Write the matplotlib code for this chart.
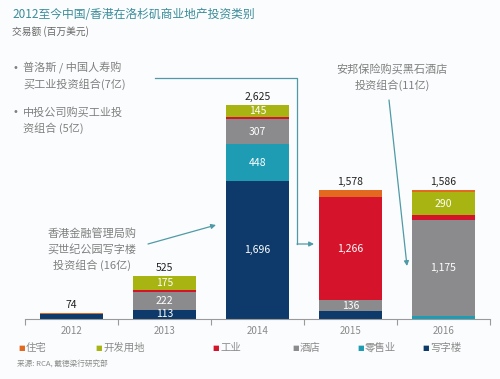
import numpy as np
import matplotlib
matplotlib.use('Agg')
import matplotlib.pyplot as plt

plt.rcParams['font.family'] = ['Noto Sans CJK SC', 'DejaVu Sans']

# data (百万美元)
years = ['2012', '2013', '2014', '2015', '2016']
office = [60, 113, 1696, 96, 0]        # 写字楼
retail = [0, 0, 448, 0, 37]            # 零售业
hotel = [0, 222, 307, 136, 1175]       # 酒店
industrial = [0, 15, 29, 1266, 60]     # 工业
devland = [0, 175, 145, 0, 290]        # 开发用地
residential = [14, 0, 0, 80, 24]       # 住宅

series = [('写字楼', office, '#0d3a6b'),
          ('零售业', retail, '#1d9cb3'),
          ('酒店', hotel, '#8b8b8d'),
          ('工业', industrial, '#d5142b'),
          ('开发用地', devland, '#a8b412'),
          ('住宅', residential, '#e2691f')]
legend_order = ['住宅', '开发用地', '工业', '酒店', '零售业', '写字楼']
legend_x = [18, 95, 212, 292, 357, 422]
# segments that carry a value label
labelled = {'写字楼': [1, 2], '零售业': [2], '酒店': [1, 2, 3, 4],
            '工业': [3], '开发用地': [1, 2, 4]}

W, H = 500, 379
fig = plt.figure(figsize=(5, 3.79), dpi=100)
fig.patch.set_facecolor('#fbfcfd')


def px(x, y):
    return (x / W, 1 - y / H)


ax = fig.add_axes([25 / W, 60 / H, 465 / W, 0.645])
ax.set_facecolor('none')
x = np.arange(len(years))
bottom = np.zeros(len(years))
for name, vals, col in series:
    vals = np.array(vals, dtype=float)
    ax.bar(x, vals, 0.68, bottom=bottom, color=col, linewidth=0)
    for i in labelled.get(name, []):
        ax.text(x[i], bottom[i] + vals[i] / 2, f'{int(vals[i]):,}',
                ha='center', va='center', color='white', fontsize=7.5)
    bottom += vals

for i, t in enumerate(bottom):
    ax.text(x[i], t + 40, f'{int(t):,}', ha='center', va='bottom',
            color='#222222', fontsize=7.5)

ax.set_xlim(-0.5, len(years) - 0.5)
ax.set_ylim(0, 3000)
ax.set_yticks([])
ax.set_xticks(x)
ax.set_xticklabels(years, color='#8a8a8a', fontsize=7)
ax.set_xticks(np.arange(-0.5, len(years)), minor=True)
ax.tick_params(axis='x', which='major', length=0, pad=5)
ax.tick_params(axis='x', which='minor', length=4, color='#9a9a9a', width=0.8)
for s in ['top', 'left', 'right']:
    ax.spines[s].set_visible(False)
ax.spines['bottom'].set_color('#9a9a9a')
ax.spines['bottom'].set_linewidth(0.8)

# titles
fig.text(*px(12, 15), '2012至今中国/香港在洛杉矶商业地产投资类别', color='#3a8c9a',
         fontsize=8.5, va='center')
fig.text(*px(12, 32), '交易额 (百万美元)', color='#666666', fontsize=7, va='center')

# annotations
txt_col = '#808080'
ln_col = '#4f9aa6'
fig.text(*px(13, 68), '•', color=txt_col, fontsize=7, va='center',
         family='DejaVu Sans')
fig.text(*px(23, 76), '普洛斯 / 中国人寿购\n买工业投资组合(7亿)', color=txt_col,
         fontsize=8, va='center', linespacing=1.5)
fig.text(*px(13, 112), '•', color=txt_col, fontsize=7, va='center',
         family='DejaVu Sans')
fig.text(*px(23, 120), '中投公司购买工业投\n资组合 (5亿)', color=txt_col,
         fontsize=8, va='center', linespacing=1.5)
fig.text(*px(392, 77), '安邦保险购买黑石酒店\n投资组合(11亿)', color=txt_col,
         fontsize=8, va='center', ha='center', linespacing=1.5)
fig.text(*px(92, 250), '香港金融管理局购\n买世纪公园写字楼\n投资组合 (16亿)', color=txt_col,
         fontsize=8, va='center', ha='center', linespacing=1.5)

fig.add_artist(plt.Line2D([155 / W, 297 / W, 297 / W],
                          [1 - 78 / H, 1 - 78 / H, 1 - 244 / H],
                          color=ln_col, lw=0.9, transform=fig.transFigure))
ax.annotate('', xy=px(314, 244), xycoords='figure fraction',
            xytext=px(297, 244), textcoords='figure fraction',
            arrowprops=dict(arrowstyle='-|>', color=ln_col, lw=0.9,
                            mutation_scale=7, shrinkA=0, shrinkB=0))
ax.annotate('', xy=px(407, 266), xycoords='figure fraction',
            xytext=px(389, 100), textcoords='figure fraction',
            arrowprops=dict(arrowstyle='-|>', color=ln_col, lw=0.9,
                            mutation_scale=7, shrinkA=0, shrinkB=0))
ax.annotate('', xy=px(216, 225), xycoords='figure fraction',
            xytext=px(148, 244), textcoords='figure fraction',
            arrowprops=dict(arrowstyle='-|>', color=ln_col, lw=0.9,
                            mutation_scale=7, shrinkA=0, shrinkB=0))

# legend
colors = {n: c for n, _, c in series}
for name, lx in zip(legend_order, legend_x):
    fig.text(*px(lx, 348), '■', color=colors[name], fontsize=5,
             va='center', family='DejaVu Sans')
    fig.text(*px(lx + 8, 348), name, color='#8a8a8a', fontsize=7.5, va='center')

fig.text(*px(17, 364), '来源: RCA, 戴德梁行研究部', color='#8a8a8a', fontsize=5.5,
         va='center')

fig.savefig('out.png', dpi=100, facecolor=fig.get_facecolor())
